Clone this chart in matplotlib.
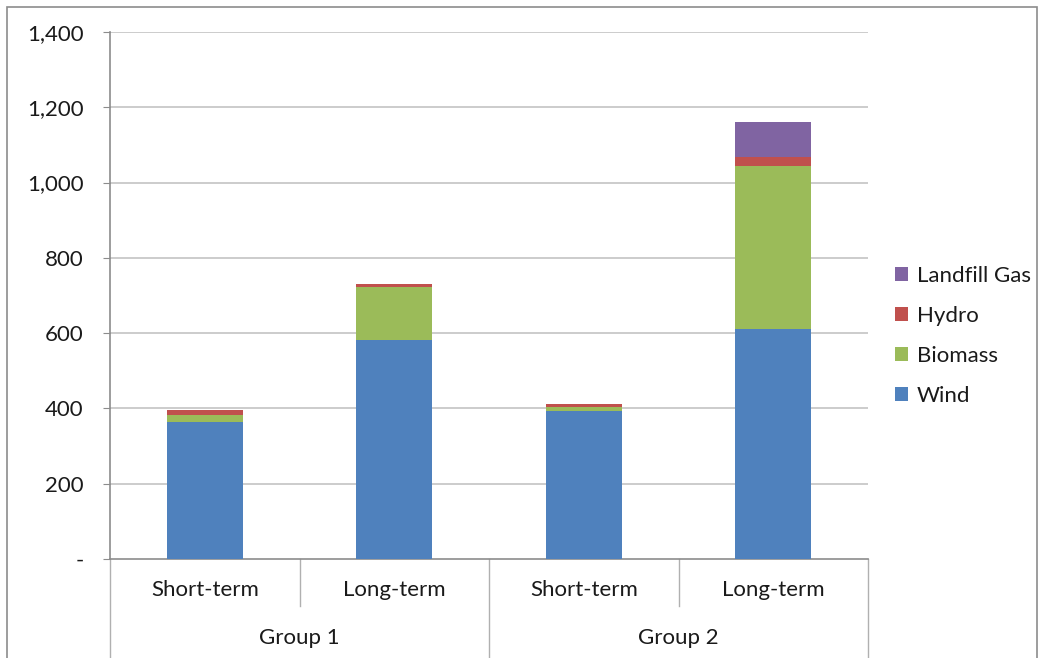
import matplotlib
matplotlib.use("Agg")
import matplotlib.pyplot as plt
from matplotlib.patches import Rectangle
from matplotlib.lines import Line2D

plt.rcParams['font.family'] = ['Lato', 'DejaVu Sans']

# data
categories = ["Short-term", "Long-term", "Short-term", "Long-term"]
groups = ["Group 1", "Group 2"]
wind = [363, 583, 394, 611]
biomass = [20, 140, 9, 434]
hydro = [12, 8, 9, 22]
landfill = [2, 0, 0, 95]
yticks = [0, 200, 400, 600, 800, 1000, 1200, 1400]

series = [("Wind", wind, "#4F81BD"),
          ("Biomass", biomass, "#9BBB59"),
          ("Hydro", hydro, "#C0504D"),
          ("Landfill Gas", landfill, "#8064A2")]

FS = 16
TXT = "#1A1A1A"
W, H = 1043, 658
fig = plt.figure(figsize=(W / 100, H / 100), dpi=100)

# outer chart border
fig.patches.append(Rectangle((7 / W, -0.01), (1037 - 7) / W, 1 - 7 / H + 0.01,
                             transform=fig.transFigure, fill=False,
                             edgecolor="#8C8C8C", linewidth=1.2))

ax = fig.add_axes([110 / W, 1 - 559 / H, 758 / W, 527 / H])

x = list(range(len(categories)))
bottom = [0] * len(categories)
handles = []
for name, vals, col in series:
    b = ax.bar(x, vals, width=0.4, bottom=bottom, color=col, label=name, zorder=3)
    handles.append(b)
    bottom = [bo + v for bo, v in zip(bottom, vals)]

ax.set_xlim(-0.5, 3.5)
ax.set_ylim(0, 1400)
ax.set_yticks(yticks)
ax.set_yticklabels(["-" if t == 0 else f"{t:,}" for t in yticks], fontsize=FS, color=TXT)
ax.tick_params(axis="y", direction="out", length=5, color="#8C8C8C", pad=14)
ax.set_xticks([])

for y in yticks[1:]:
    ax.axhline(y, color="#C4C4C4", linewidth=1.2, zorder=1)

for s in ["top", "right"]:
    ax.spines[s].set_visible(False)
for s in ["left", "bottom"]:
    ax.spines[s].set_color("#8C8C8C")
    ax.spines[s].set_linewidth(1.2)

# category axis: dividers and labels
tr = ax.get_xaxis_transform()
for xv in [0.5, 2.5]:
    ax.add_line(Line2D([xv, xv], [0, -47 / 527], transform=tr, color="#B0B0B0",
                       linewidth=1.0, clip_on=False))
for xv in [-0.5, 1.5, 3.5]:
    ax.add_line(Line2D([xv, xv], [0, -110 / 527], transform=tr, color="#B0B0B0",
                       linewidth=1.0, clip_on=False))
for xi, lab in zip(x, categories):
    ax.text(xi, -31 / 527, lab, transform=tr, ha="center", va="center",
            fontsize=FS, color=TXT)
for gi, g in enumerate(groups):
    ax.text(gi * 2 + 0.5, -79 / 527, g, transform=tr, ha="center", va="center",
            fontsize=FS, color=TXT)

leg = fig.legend(handles[::-1], [s[0] for s in series][::-1],
                 loc="upper left", bbox_to_anchor=(886 / W, 1 - 257 / H),
                 frameon=False, fontsize=FS, handlelength=0.6, handleheight=0.6,
                 handletextpad=0.4, labelspacing=0.9, borderaxespad=0)
for t in leg.get_texts():
    t.set_color(TXT)

fig.savefig("out.png", dpi=100)
